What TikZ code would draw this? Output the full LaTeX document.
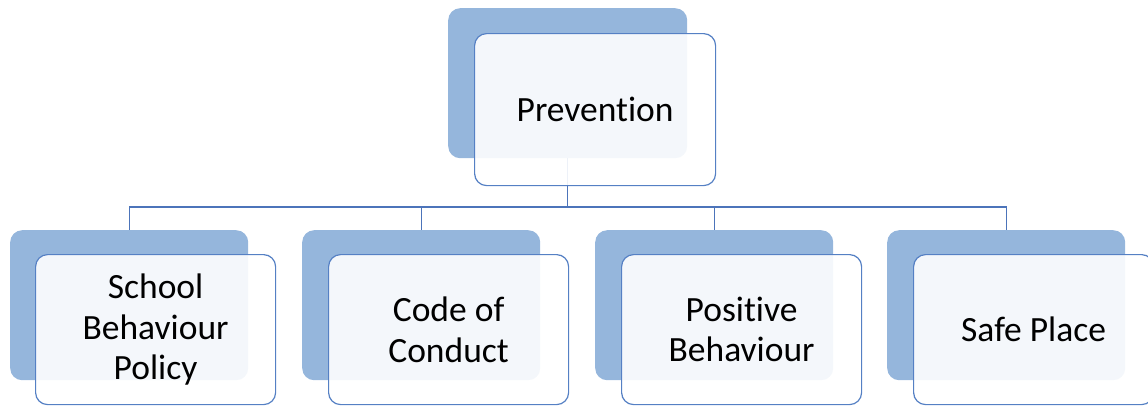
\documentclass[tikz,border=0pt]{standalone}
\usepackage{fontspec}
\setmainfont{Carlito}[Ligatures={NoCommon,NoRequired}]
\definecolor{backblue}{HTML}{95B6DC}
\definecolor{frontline}{HTML}{5580C4}
\definecolor{linkblue}{HTML}{4C74BA}
\tikzset{
  backbox/.style={draw=none, fill=backblue, rounded corners=12pt,
    minimum width=238pt, minimum height=150pt, inner sep=0pt, anchor=north west},
  frontbox/.style={draw=frontline, line width=1.2pt, fill=white, fill opacity=0.9,
    text opacity=1, rounded corners=12pt, minimum width=240pt, minimum height=150pt,
    inner sep=0pt, anchor=north west, align=center,
    font=\fontsize{35.5}{40.5}\selectfont},
  link/.style={draw=linkblue, line width=1.2pt}
}
\begin{document}
\begin{tikzpicture}[x=1pt,y=-1pt]
\useasboundingbox (0,0) rectangle (1148,405);
% back boxes
\node[backbox, minimum width=239pt] (pb) at (448,8) {};
\node[backbox] (c1b) at (10,230) {};
\node[backbox] (c2b) at (302,230) {};
\node[backbox] (c3b) at (595,230) {};
\node[backbox] (c4b) at (887,230) {};
% connectors
\coordinate (bus) at (0,207);
\draw[link] (pb.south) -- (pb.south |- bus);
\foreach \c in {c1b,c2b,c3b,c4b}
  \draw[link] (pb.south |- bus) -| (\c.north);
% front boxes
\node[frontbox, minimum width=241pt, minimum height=152pt] (pf) at (474,33) {Prevention};
\node[frontbox] (c1f) at (35,254) {School\\Behaviour\\Policy};
\node[frontbox] (c2f) at (328,254) {Code of\\Conduct};
\node[frontbox] (c3f) at (621,254) {Positive\\Behaviour};
\node[frontbox] (c4f) at (913,254) {Safe Place};
\end{tikzpicture}
\end{document}
